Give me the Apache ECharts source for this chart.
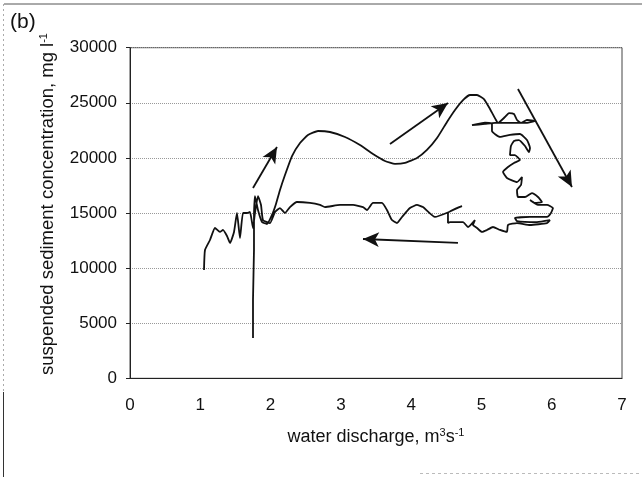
<!DOCTYPE html>
<html><head><meta charset="utf-8">
<script src="https://cdn.jsdelivr.net/npm/echarts@6/dist/echarts.min.js"></script>
<style>html,body{margin:0;padding:0;background:#fff}#c{width:642px;height:477px}</style>
</head><body><div id="c"></div>
<script>
// Rising limb (water discharge m3/s, suspended sediment mg/l)
const risingQ = [1.75,1.75,1.764,1.764,1.778,1.821,1.878,1.949,2.02,2.077,2.134,2.205,2.305,2.419,2.532,2.675,2.845,3.059,3.272,3.457,3.628,3.77,3.912,4.083,4.225,4.368,4.51,4.624,4.738,4.837,4.937,5.036,5.122,5.207,5.235];
const risingSSC = [3660,7100,11640,14820,16540,15270,14180,14000,14820,15820,17090,18450,20170,21350,22080,22440,22350,21900,21170,20350,19720,19450,19540,19990,20720,21800,23260,24350,25250,25710,25710,25340,24440,23440,23170];
// Peak-discharge loops
const loopQ = [5.335,5.392,5.463,5.506,5.563,5.648,5.762,5.62,5.406,5.193,5.05,4.866,5.05,5.15,5.15,5.264,5.406,5.548,5.648,5.691,5.676,5.62,5.534,5.463,5.42,5.406,5.477,5.548,5.463,5.378,5.307,5.363,5.506,5.577,5.563,5.506,5.52,5.62,5.719,5.805,5.861,5.762,5.691,5.805,5.933,6.018,5.989,5.933,5.691,5.477,5.506,5.79,5.975,5.933,5.691,5.506,5.378,5.363,5.264,5.164,5.079,5.008,4.937,4.88,4.908,4.809,4.738,4.553,4.524,4.524,4.723,4.538];
const loopSSC = [23710,24070,23980,23440,23170,23440,23350,23170,23170,23170,23080,22980,23210,23080,22440,21900,22080,22170,21620,20900,20530,21080,21620,21530,21080,20260,20260,19810,19540,19170,18720,18180,17810,18270,17540,17090,16450,16450,16810,16450,16000,15910,16180,15730,15730,15450,15000,14640,14640,14550,14270,14180,14360,14090,13910,14090,13910,13280,13460,13730,13460,13280,13640,13910,14360,13730,14180,14180,14090,15000,15630,15090];
// Falling limb
const fallingQ = [4.339,4.168,4.083,3.983,3.87,3.799,3.727,3.656,3.585,3.457,3.372,3.315,3.173,2.988,2.774,2.703,2.561,2.376,2.276,2.205,2.134,2.063,1.992,1.892,1.864,1.821,1.778,1.75,1.707,1.665,1.608,1.565,1.522,1.48,1.423,1.38,1.323,1.28,1.209,1.138,1.067,1.053];
const fallingSSC = [14640,15540,15730,15450,14640,14090,14360,15270,15910,15910,15270,15540,15730,15730,15540,15730,15910,16000,15540,15000,15450,15090,14090,14360,15730,16540,15000,13640,15090,15000,15000,12730,15000,13280,12280,12910,13460,13280,13640,12550,11640,9830];
// Direction arrows: from (Q, SSC) to (Q, SSC)
const arrowFromQ = [1.75, 3.699, 5.52, 4.666];
const arrowFromSSC = [17270, 21260, 26250, 12280];
const arrowToQ = [2.091, 4.524, 6.288, 3.315];
const arrowToSSC = [20990, 24980, 17360, 12640];

const pts = [];
[[risingQ, risingSSC], [loopQ, loopSSC], [fallingQ, fallingSSC]].forEach(([q, s]) => {
  q.forEach((v, i) => pts.push([v, s[i]]));
});
const arrows = arrowFromQ.map((v, i) => [
  { coord: [v, arrowFromSSC[i]] },
  { coord: [arrowToQ[i], arrowToSSC[i]] }
]);

const FONT = "'Liberation Sans', Arial, sans-serif";
const supStyle = { fontFamily: FONT, fontSize: 11, fill: '#111', color: '#111', verticalAlign: 'top', padding: [0, 0, 9, 0] };
const chart = echarts.init(document.getElementById('c'), null, { renderer: 'canvas' });
chart.setOption({
  animation: false,
  backgroundColor: '#fff',
  grid: { left: 130, right: 20, top: 47.7, bottom: 98.7, show: true, borderColor: '#444', borderWidth: 1, backgroundColor: 'transparent' },
  xAxis: {
    type: 'value', min: 0, max: 7, interval: 1,
    name: 'water discharge, m{sup|3}s{sup|-1}',
    nameLocation: 'middle', nameGap: 49,
    nameTextStyle: { fontFamily: FONT, fontSize: 18, color: '#111', rich: { sup: supStyle } },
    axisLine: { lineStyle: { color: '#222', width: 1 } },
    axisTick: { show: false },
    axisLabel: { fontFamily: FONT, fontSize: 17, color: '#111', margin: 19 },
    splitLine: { show: false }
  },
  yAxis: {
    type: 'value', min: 0, max: 30000, interval: 5000,
    axisLine: { show: true, lineStyle: { color: '#222', width: 1 } },
    axisTick: { show: true, length: 4, lineStyle: { color: '#222' } },
    axisLabel: { fontFamily: FONT, fontSize: 17, color: '#111', margin: 13, formatter: v => String(v) },
    splitLine: { show: true, lineStyle: { color: '#999', type: 'dotted', width: 1 } }
  },
  graphic: [
    { type: 'text', left: 10, top: 12, style: { text: '(b)', fontFamily: FONT, fontSize: 21, fill: '#111' } },
    { type: 'text', x: 48, y: 204, rotation: Math.PI / 2,
      style: { text: 'suspended sediment concentration, mg l{sup|-1}', fontFamily: FONT, fontSize: 18.5, fill: '#111',
        align: 'center', verticalAlign: 'middle', rich: { sup: supStyle } } },
    { type: 'line', shape: { x1: 4, y1: 4, x2: 642, y2: 4 }, style: { stroke: '#555', lineWidth: 1 } },
    { type: 'line', shape: { x1: 3.5, y1: 4, x2: 3.5, y2: 477 }, style: { stroke: '#aaa', lineWidth: 1, lineDash: [2, 3] } },
    { type: 'line', shape: { x1: 3.5, y1: 392, x2: 3.5, y2: 477 }, style: { stroke: '#333', lineWidth: 1 } },
    { type: 'line', shape: { x1: 420, y1: 473.5, x2: 642, y2: 473.5 }, style: { stroke: '#bbb', lineWidth: 1, lineDash: [3, 3] } }
  ],
  series: [{
    type: 'line',
    data: pts,
    showSymbol: false,
    symbol: 'none',
    smooth: 0.15,
    lineStyle: { color: '#111', width: 1.8 },
    markLine: {
      silent: true,
      symbol: ['none', 'arrow'],
      symbolSize: [11, 16],
      label: { show: false },
      lineStyle: { color: '#111', width: 1.8, type: 'solid' },
      emphasis: { disabled: true },
      data: arrows
    }
  }]
});
</script>
</body></html>
